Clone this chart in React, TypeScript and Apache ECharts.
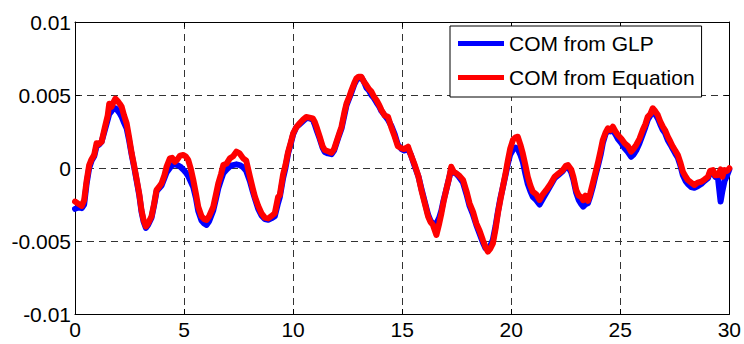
import React, { useEffect, useRef } from "react";
import * as echarts from "echarts";

const seriesNames = ["COM from GLP", "COM from Equation"];
const xTicks = [0, 5, 10, 15, 20, 25, 30];
const yTickLabels = ["-0.01", "-0.005", "0", "0.005", "0.01"];

const time = [
  0.0, 0.15, 0.31, 0.42, 0.53, 0.65, 0.76, 0.88, 0.99, 1.1, 1.22, 1.37, 1.5, 1.57, 1.68, 1.76, 1.85, 1.95, 2.05, 2.14,
  2.25, 2.37, 2.48, 2.6, 2.72, 2.83, 2.95, 3.05, 3.15, 3.25, 3.35, 3.51, 3.62, 3.74, 3.85, 3.97, 4.1, 4.2, 4.35, 4.45,
  4.58, 4.7, 4.82, 4.96, 5.08, 5.19, 5.3, 5.42, 5.55, 5.65, 5.8, 5.92, 6.03, 6.15, 6.34, 6.45, 6.57, 6.7, 6.8, 6.95,
  7.1, 7.25, 7.4, 7.55, 7.71, 7.85, 8.02, 8.15, 8.25, 8.4, 8.55, 8.7, 8.86, 9.0, 9.16, 9.31, 9.39, 9.54, 9.65, 9.77,
  9.9, 10.0, 10.15, 10.3, 10.45, 10.6, 10.75, 10.9, 10.99, 11.1, 11.22, 11.35, 11.45, 11.6, 11.76, 11.88, 11.99, 12.1, 12.22, 12.35,
  12.45, 12.58, 12.68, 12.8, 12.9, 13.0, 13.13, 13.25, 13.36, 13.48, 13.59, 13.7, 13.82, 13.95, 14.05, 14.2, 14.35, 14.5, 14.66, 14.8,
  14.97, 15.1, 15.27, 15.4, 15.58, 15.75, 15.88, 16.05, 16.19, 16.3, 16.41, 16.57, 16.7, 16.8, 16.9, 17.02, 17.15, 17.25, 17.36, 17.48,
  17.6, 17.79, 17.95, 18.09, 18.25, 18.4, 18.55, 18.7, 18.82, 18.93, 19.05, 19.16, 19.28, 19.39, 19.5, 19.62, 19.75, 19.85, 19.95, 20.08,
  20.2, 20.3, 20.42, 20.53, 20.65, 20.76, 20.88, 20.99, 21.15, 21.3, 21.45, 21.61, 21.8, 21.99, 22.15, 22.37, 22.5, 22.6, 22.75, 22.85,
  22.98, 23.1, 23.22, 23.3, 23.4, 23.52, 23.63, 23.74, 23.85, 23.97, 24.1, 24.2, 24.32, 24.43, 24.55, 24.66, 24.78, 24.89, 25.05, 25.2,
  25.35, 25.5, 25.6, 25.73, 25.88, 26.03, 26.15, 26.26, 26.38, 26.49, 26.6, 26.72, 26.83, 26.95, 27.05, 27.18, 27.3, 27.41, 27.52, 27.64,
  27.75, 27.87, 28.0, 28.1, 28.25, 28.4, 28.55, 28.71, 28.85, 29.02, 29.12, 29.25, 29.35, 29.48, 29.6, 29.68, 29.78, 29.9, 30.0,
];

const comEquation = [
  -0.0023, -0.00245, -0.0026, -0.0022, -0.0009, 0.0002, 0.0006, 0.0009, 0.0017, 0.00165, 0.0018, 0.0028, 0.0036, 0.0044, 0.0042, 0.0045, 0.00475, 0.0046, 0.0044, 0.0042,
  0.0036, 0.00305, 0.0021, 0.001, 0.0001, -0.0008, -0.0018, -0.0029, -0.0036, -0.004, -0.0038, -0.0033, -0.0025, -0.0015, -0.0013, -0.00105, -0.0005, 0.0001, 0.00066, 0.0007,
  0.00043, 0.0006, 0.00085, 0.00089, 0.0008, 0.00055, 0.0, -0.0008, -0.0018, -0.00265, -0.0033, -0.0035, -0.00356, -0.0033, -0.00265, -0.0019, -0.00105, -0.0004, 0.0002, 0.0003,
  0.00066, 0.0008, 0.00112, 0.001, 0.00066, 0.0005, -0.0006, -0.0014, -0.00197, -0.0026, -0.0031, -0.0034, -0.00345, -0.0033, -0.0031, -0.002, -0.00185, -0.00045, 0.0002, 0.0011,
  0.0018, 0.00237, 0.0028, 0.00306, 0.0033, 0.0035, 0.00345, 0.0034, 0.00317, 0.0027, 0.00214, 0.0015, 0.00123, 0.00115, 0.00105, 0.0013, 0.0018, 0.0023, 0.00283, 0.0038,
  0.00443, 0.0049, 0.00534, 0.0058, 0.00614, 0.00625, 0.00625, 0.0059, 0.00568, 0.0054, 0.00523, 0.0049, 0.00466, 0.0043, 0.00397, 0.0036, 0.00351, 0.0028, 0.00214, 0.0015,
  0.00135, 0.0013, 0.00146, 0.0009, 0.0002, -0.0006, -0.0015, -0.0025, -0.00333, -0.0037, -0.0039, -0.00459, -0.0038, -0.0031, -0.0023, -0.0015, -0.0007, 0.00009, -0.00025, -0.00036,
  -0.0005, -0.00082, -0.0016, -0.00242, -0.003, -0.00379, -0.0043, -0.00493, -0.0054, -0.00573, -0.0055, -0.00516, -0.0042, -0.0031, -0.0022, -0.00128, -0.0003, 0.00055, 0.0013, 0.00192,
  0.0021, 0.00214, 0.0016, 0.001, 0.0002, -0.0006, -0.0012, -0.00162, -0.0018, -0.00219, -0.0018, -0.0015, -0.0011, -0.0006, -0.0004, -0.00014, 0.00015, 0.0002, -0.0001, -0.0006,
  -0.0015, -0.0019, -0.002, -0.0022, -0.0019, -0.00225, -0.0017, -0.00105, -0.0004, 0.00032, 0.0012, 0.00192, 0.0024, 0.00272, 0.0026, 0.00283, 0.0025, 0.00226, 0.002, 0.00169,
  0.0015, 0.00112, 0.0013, 0.00158, 0.002, 0.0026, 0.003, 0.00351, 0.0037, 0.00409, 0.0039, 0.00363, 0.0032, 0.00283, 0.0026, 0.00214, 0.0018, 0.00146, 0.0012, 0.00089,
  0.0004, -0.00025, -0.0006, -0.00082, -0.001, -0.00116, -0.001, -0.00094, -0.0008, -0.0006, -0.0002, -0.00014, -0.0005, -0.00048, -0.0001, -0.0006, -0.00014, -0.0002, -0.00002,
];

const comGLP = [
  -0.0028, -0.0027, -0.00275, -0.0025, -0.0011, 0.0, 0.0005, 0.0008, 0.0015, 0.0016, 0.0018, 0.0026, 0.0033, 0.0037, 0.0039, 0.0041, 0.0041, 0.00395, 0.00375, 0.0035,
  0.0031, 0.0027, 0.0019, 0.0009, 0.0, -0.0009, -0.0019, -0.003, -0.0037, -0.0041, -0.0039, -0.0034, -0.0026, -0.0016, -0.0014, -0.0012, -0.0007, -0.0003, 0.0, 0.0002,
  0.00025, 0.0002, 0.0001, -0.0001, -0.0003, -0.00055, -0.0009, -0.0013, -0.0021, -0.00295, -0.0036, -0.0038, -0.0039, -0.00365, -0.0029, -0.0022, -0.0014, -0.0008, -0.00036, -0.0001,
  0.0001, 0.0002, 0.00025, 0.0002, 0.00005, -0.0002, -0.0009, -0.0016, -0.0021, -0.0028, -0.00325, -0.0035, -0.00355, -0.00345, -0.0033, -0.0024, -0.002, -0.0007, 0.0, 0.001,
  0.0017, 0.0023, 0.0028, 0.003, 0.0032, 0.0034, 0.0034, 0.0033, 0.003, 0.0025, 0.002, 0.0014, 0.0011, 0.001, 0.00095, 0.0012, 0.0017, 0.0022, 0.0027, 0.0036,
  0.0043, 0.0048, 0.0052, 0.0057, 0.006, 0.00615, 0.0062, 0.0059, 0.0055, 0.0053, 0.005, 0.0048, 0.0045, 0.0042, 0.0039, 0.0036, 0.0033, 0.0029, 0.0023, 0.0016,
  0.0013, 0.0012, 0.0013, 0.0009, 0.0001, -0.0006, -0.0014, -0.0024, -0.0032, -0.0036, -0.0038, -0.0038, -0.0034, -0.0029, -0.0022, -0.0015, -0.0007, -0.0001, -0.0003, -0.0004,
  -0.0006, -0.001, -0.0018, -0.0026, -0.0032, -0.0039, -0.0045, -0.0051, -0.0055, -0.0056, -0.0053, -0.0049, -0.004, -0.003, -0.0021, -0.0013, -0.0004, 0.0003, 0.0009, 0.00125,
  0.0014, 0.0013, 0.0009, 0.00043, -0.0004, -0.0011, -0.0016, -0.00197, -0.0022, -0.0025, -0.0021, -0.0017, -0.0012, -0.0007, -0.0005, -0.0002, 0.00005, 0.0001, -0.0003, -0.0008,
  -0.0017, -0.0022, -0.0025, -0.00265, -0.0025, -0.0024, -0.0019, -0.0013, -0.0006, 0.0001, 0.0009, 0.0017, 0.0023, 0.0026, 0.0025, 0.0026, 0.0023, 0.002, 0.0017, 0.00135,
  0.0011, 0.00077, 0.0009, 0.0012, 0.0017, 0.0023, 0.0028, 0.0033, 0.0036, 0.0038, 0.0037, 0.0034, 0.003, 0.0026, 0.0024, 0.0019, 0.0016, 0.0013, 0.001, 0.0007,
  0.0002, -0.0005, -0.0009, -0.0011, -0.0013, -0.00135, -0.00125, -0.0011, -0.0009, -0.0007, -0.0003, -0.0003, -0.0006, -0.0007, -0.0023, -0.0016, -0.0009, -0.0005, -0.0001,
];

const FONT = "'Liberation Sans', Arial, Helvetica, sans-serif";

export default function App() {
  const ref = useRef<HTMLDivElement>(null);

  useEffect(() => {
    if (!ref.current) return;
    const chart = echarts.init(ref.current, undefined, { renderer: "svg" });
    const glpData = time.map((t, i) => [t, comGLP[i]]);
    const eqData = time.map((t, i) => [t, comEquation[i]]);
    const tickStyle = { show: true, inside: true, length: 5, lineStyle: { color: "#000", width: 1 } };
    const lineAxis = { show: true, onZero: false, lineStyle: { color: "#000", width: 1 } };
    const option = {
      animation: false,
      backgroundColor: "#fff",
      grid: { left: 75, right: 14, top: 22, bottom: 30, containLabel: false },
      legend: {
        data: seriesNames,
        orient: "vertical",
        left: 450,
        top: 26,
        padding: [7, 7, 9, 8],
        itemGap: 13,
        itemWidth: 46,
        itemHeight: 5,
        icon: "rect",
        borderColor: "#000",
        borderWidth: 1,
        borderRadius: 0,
        backgroundColor: "#fff",
        textStyle: { fontFamily: FONT, fontSize: 21, color: "#000", padding: [0, 0, 0, 0] },
      },
      xAxis: [
        {
          type: "value",
          min: 0,
          max: 30,
          interval: 5,
          position: "bottom",
          axisLine: lineAxis,
          axisTick: tickStyle,
          axisLabel: {
            fontFamily: FONT,
            fontSize: 21,
            color: "#000",
            margin: 5,
            formatter: (v: number) => (xTicks.includes(v) ? String(v) : ""),
          },
          splitLine: { show: true, lineStyle: { color: "#333", width: 1, type: [7, 5] } },
        },
        {
          type: "value",
          min: 0,
          max: 30,
          interval: 5,
          position: "top",
          axisLine: lineAxis,
          axisTick: tickStyle,
          axisLabel: { show: false },
          splitLine: { show: false },
        },
      ],
      yAxis: [
        {
          type: "value",
          min: -0.01,
          max: 0.01,
          interval: 0.005,
          position: "left",
          axisLine: lineAxis,
          axisTick: tickStyle,
          axisLabel: {
            fontFamily: FONT,
            fontSize: 21,
            color: "#000",
            margin: 4,
            formatter: (v: number) => yTickLabels[Math.round((v + 0.01) / 0.005)] ?? "",
          },
          splitLine: { show: true, lineStyle: { color: "#333", width: 1, type: [7, 5] } },
        },
        {
          type: "value",
          min: -0.01,
          max: 0.01,
          interval: 0.005,
          position: "right",
          axisLine: lineAxis,
          axisTick: tickStyle,
          axisLabel: { show: false },
          splitLine: { show: false },
        },
      ],
      series: [
        {
          name: seriesNames[0],
          type: "line",
          data: glpData,
          symbol: "none",
          showSymbol: false,
          smooth: false,
          color: "#0000ff",
          lineStyle: { color: "#0000ff", width: 6, join: "round", cap: "round" },
          z: 2,
        },
        {
          name: seriesNames[1],
          type: "line",
          data: eqData,
          symbol: "none",
          showSymbol: false,
          smooth: false,
          color: "#ff0000",
          lineStyle: { color: "#ff0000", width: 6, join: "round", cap: "round" },
          z: 3,
        },
      ],
    };
    chart.setOption(option as any);
    return () => chart.dispose();
  }, []);

  return (
    <div
      ref={ref}
      style={{ position: "fixed", left: 0, top: 0, width: 744, height: 344, background: "#fff" }}
    />
  );
}
